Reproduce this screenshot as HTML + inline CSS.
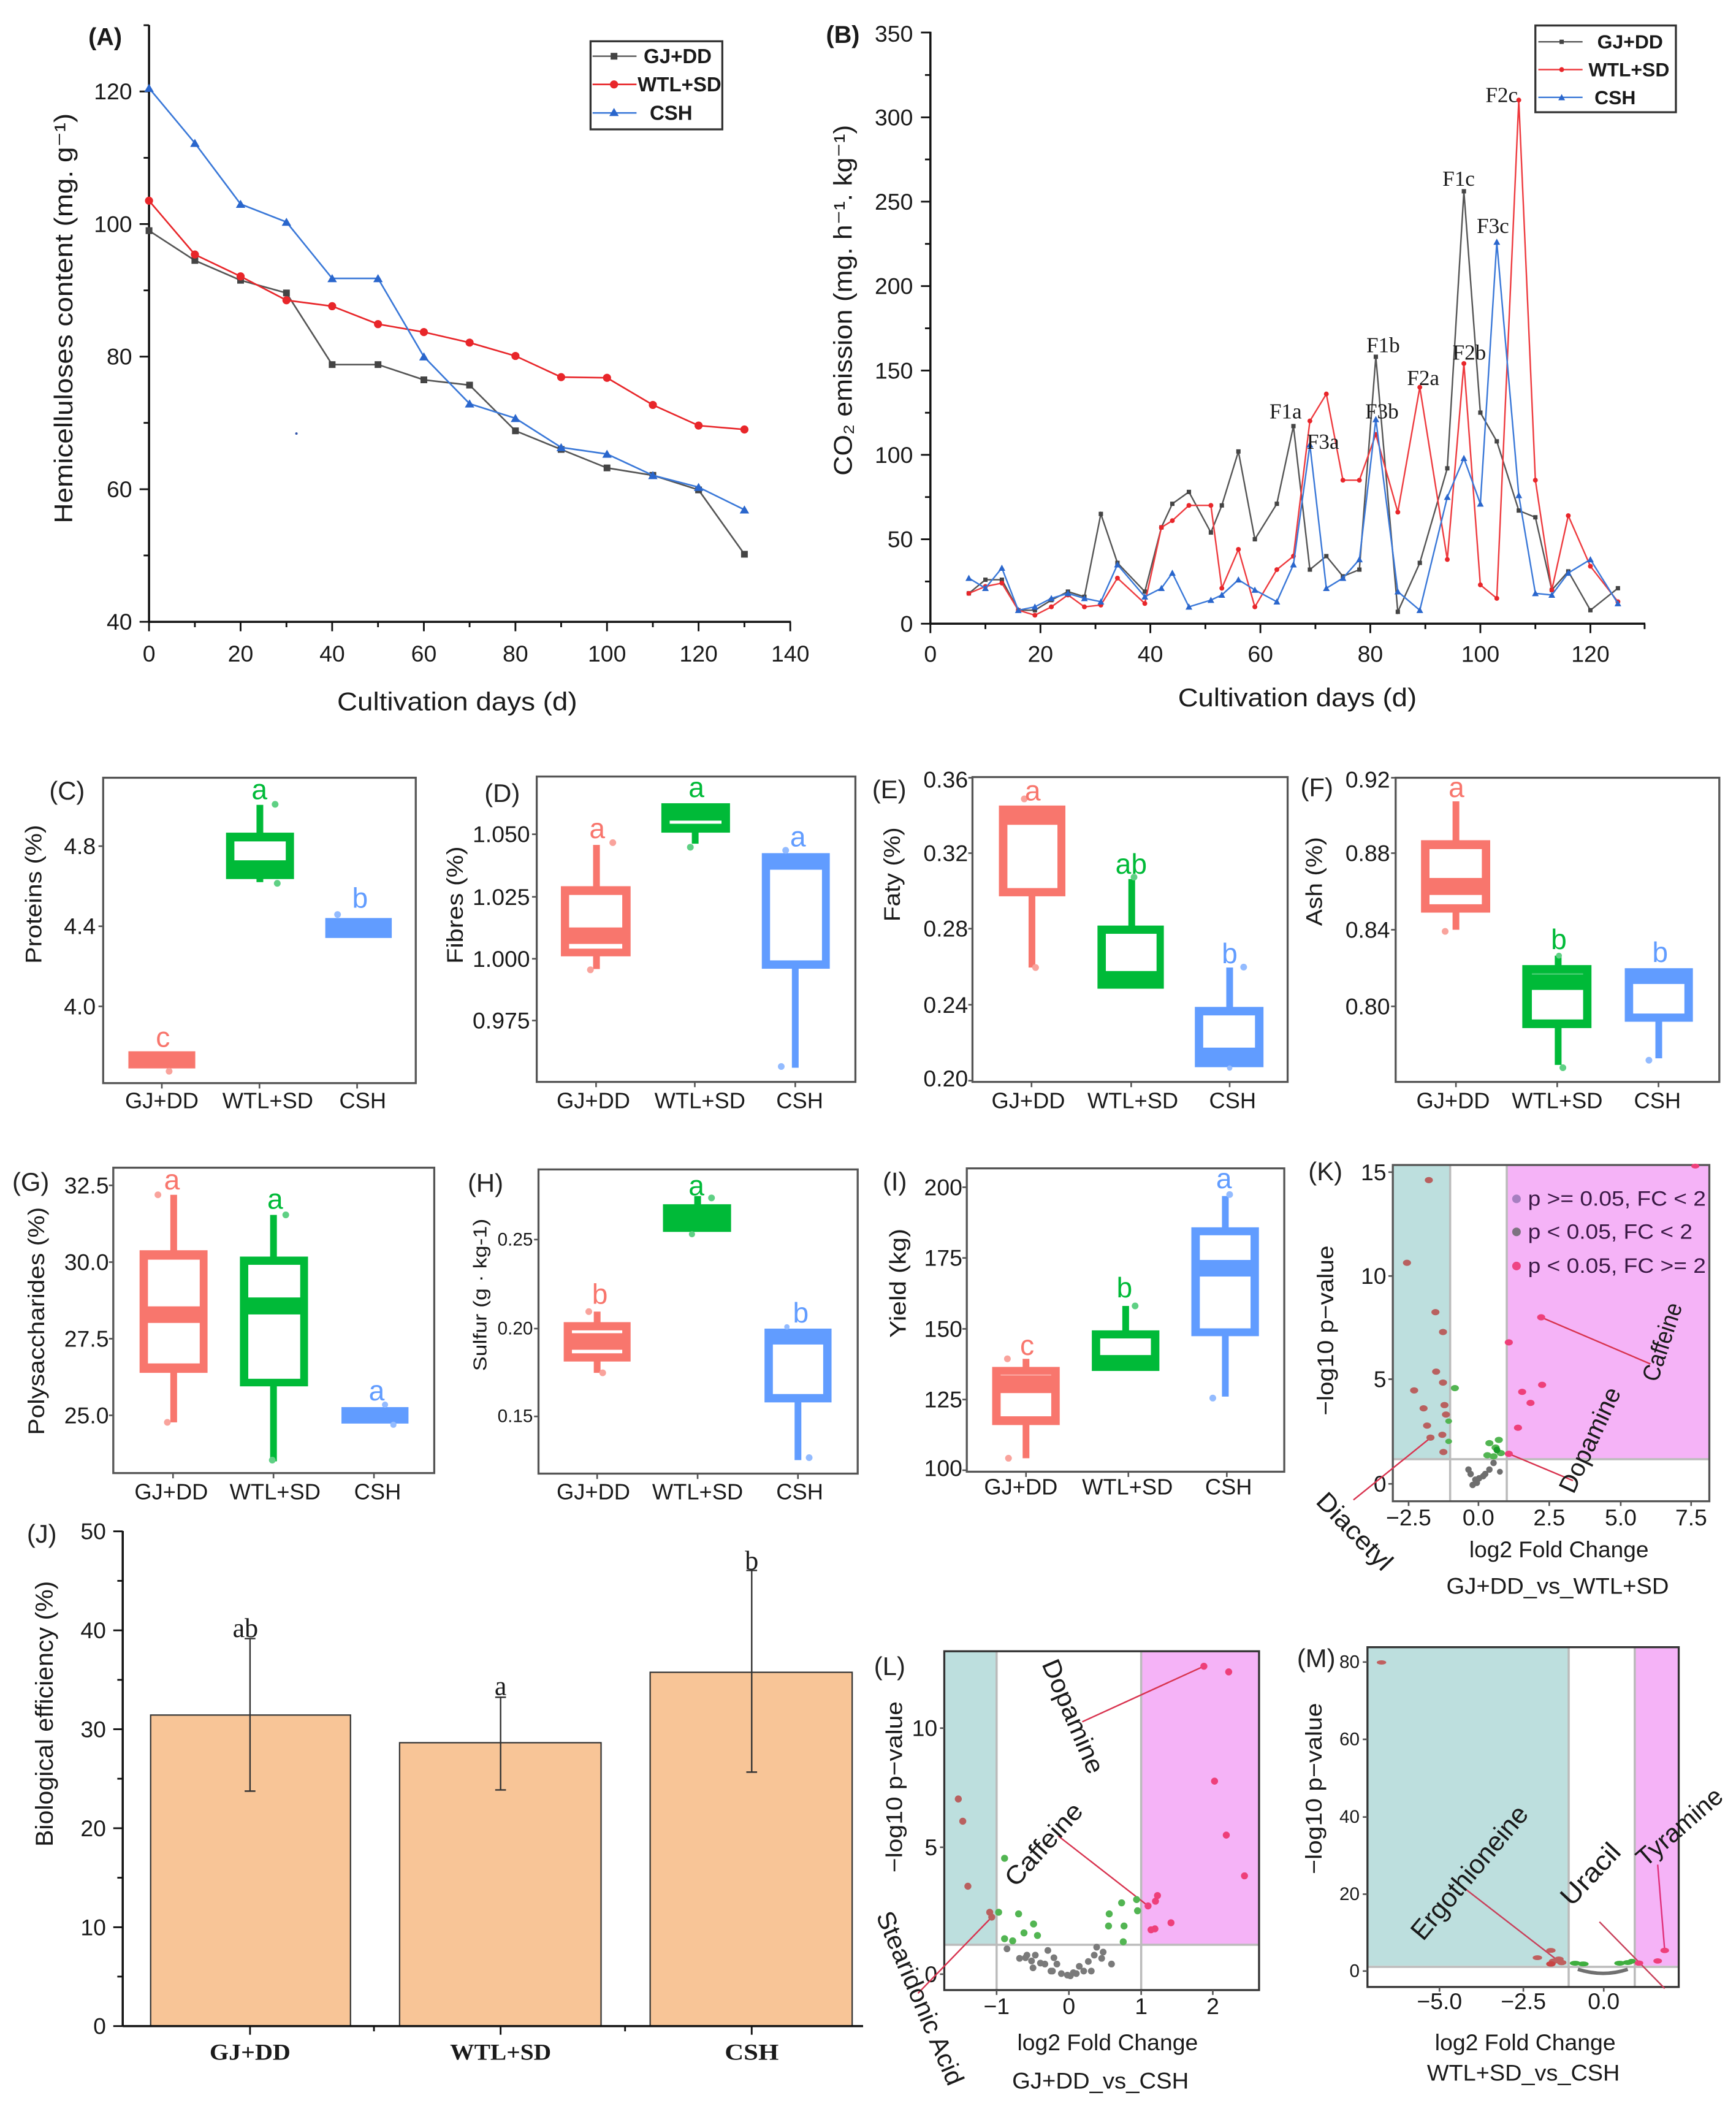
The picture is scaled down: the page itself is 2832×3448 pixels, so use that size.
<!DOCTYPE html>
<html><head><meta charset="utf-8"><style>
html,body{margin:0;padding:0;background:#fff;}
svg{display:block;}
text{font-family:"Liberation Sans",Arial,sans-serif;fill:#1a1a1a;}
.serif{font-family:"Liberation Serif","Times New Roman",serif;}
.tk{font-size:17px;}
.cat{font-size:16.5px;}
.pl{font-size:19px;fill:#222;}
.lt{font-size:21px;}
</style></head><body>
<svg xmlns="http://www.w3.org/2000/svg" width="2832" height="3448" viewBox="0 0 1287.27 1567.27">
<defs>
<marker id="mAsq" markerUnits="userSpaceOnUse" markerWidth="8" markerHeight="8" refX="4" refY="4"><rect x="1.5" y="1.5" width="5" height="5" fill="#444"/></marker>
<marker id="mAci" markerUnits="userSpaceOnUse" markerWidth="8" markerHeight="8" refX="4" refY="4"><circle cx="4" cy="4" r="3" fill="#e8262a"/></marker>
<marker id="mAtr" markerUnits="userSpaceOnUse" markerWidth="9" markerHeight="9" refX="4.5" refY="4.5"><path d="M4.5,1.3 L8,7.3 L1,7.3Z" fill="#2a66cc"/></marker>
<marker id="mBsq" markerUnits="userSpaceOnUse" markerWidth="6" markerHeight="6" refX="3" refY="3"><rect x="1.4" y="1.4" width="3.2" height="3.2" fill="#444"/></marker>
<marker id="mBci" markerUnits="userSpaceOnUse" markerWidth="6" markerHeight="6" refX="3" refY="3"><circle cx="3" cy="3" r="1.8" fill="#e8262a"/></marker>
<marker id="mBtr" markerUnits="userSpaceOnUse" markerWidth="7" markerHeight="7" refX="3.5" refY="3.5"><path d="M3.5,1 L6,5.6 L1,5.6Z" fill="#2a66cc"/></marker>
</defs>
<rect x="0" y="0" width="1287.27" height="1567.27" fill="#fff"/>

<!-- ================= PANEL A ================= -->
<g>
<text x="78" y="27.5" font-size="18" font-weight="bold" text-anchor="middle" dominant-baseline="central" fill="#111">(A)</text>
<line x1="110.5" y1="18.5" x2="110.5" y2="461" stroke="#111" stroke-width="1.6"/>
<line x1="110.5" y1="461" x2="586.5" y2="461" stroke="#111" stroke-width="1.6"/>
<g stroke="#111" stroke-width="1.3">
<line x1="103.5" y1="461" x2="110.5" y2="461"/><line x1="103.5" y1="362.7" x2="110.5" y2="362.7"/><line x1="103.5" y1="264.4" x2="110.5" y2="264.4"/><line x1="103.5" y1="166.1" x2="110.5" y2="166.1"/><line x1="103.5" y1="67.8" x2="110.5" y2="67.8"/>
<line x1="106.5" y1="411.8" x2="110.5" y2="411.8"/><line x1="106.5" y1="313.5" x2="110.5" y2="313.5"/><line x1="106.5" y1="215.3" x2="110.5" y2="215.3"/><line x1="106.5" y1="117" x2="110.5" y2="117"/><line x1="106.5" y1="18.7" x2="110.5" y2="18.7"/>
<line x1="110.5" y1="461" x2="110.5" y2="468"/><line x1="178.4" y1="461" x2="178.4" y2="468"/><line x1="246.3" y1="461" x2="246.3" y2="468"/><line x1="314.3" y1="461" x2="314.3" y2="468"/><line x1="382.2" y1="461" x2="382.2" y2="468"/><line x1="450.1" y1="461" x2="450.1" y2="468"/><line x1="518" y1="461" x2="518" y2="468"/><line x1="586" y1="461" x2="586" y2="468"/>
<line x1="144.5" y1="461" x2="144.5" y2="465"/><line x1="212.4" y1="461" x2="212.4" y2="465"/><line x1="280.3" y1="461" x2="280.3" y2="465"/><line x1="348.2" y1="461" x2="348.2" y2="465"/><line x1="416.1" y1="461" x2="416.1" y2="465"/><line x1="484.1" y1="461" x2="484.1" y2="465"/><line x1="552" y1="461" x2="552" y2="465"/>
</g>
<g class="tk" text-anchor="end" dominant-baseline="central">
<text x="98" y="461">40</text><text x="98" y="362.7">60</text><text x="98" y="264.4">80</text><text x="98" y="166.1">100</text><text x="98" y="67.8">120</text>
</g>
<g class="tk" text-anchor="middle" dominant-baseline="central">
<text x="110.5" y="484.5">0</text><text x="178.4" y="484.5">20</text><text x="246.3" y="484.5">40</text><text x="314.3" y="484.5">60</text><text x="382.2" y="484.5">80</text><text x="450.1" y="484.5">100</text><text x="518" y="484.5">120</text><text x="586" y="484.5">140</text>
</g>
<text x="339" y="520" font-size="19" text-anchor="middle" dominant-baseline="central" textLength="178" lengthAdjust="spacingAndGlyphs">Cultivation days (d)</text>
<text transform="translate(47,236) rotate(-90)" font-size="19" text-anchor="middle" dominant-baseline="central" textLength="304" lengthAdjust="spacingAndGlyphs">Hemicelluloses content  (mg. g⁻¹)</text>
<circle cx="219.8" cy="321.4" r="0.9" fill="#3355aa"/>
<polyline fill="none" stroke="#555" stroke-width="1.2" marker-start="url(#mAsq)" marker-mid="url(#mAsq)" marker-end="url(#mAsq)" points="110.5,171 144.5,193.1 178.4,207.8 212.4,217.2 246.3,270.3 280.3,270.3 314.3,281.6 348.2,285.5 382.2,319.4 416.1,333.2 450.1,346.9 484.1,352.4 518,363.2 552,410.9"/>
<polyline fill="none" stroke="#e8262a" stroke-width="1.2" marker-start="url(#mAci)" marker-mid="url(#mAci)" marker-end="url(#mAci)" points="110.5,148.8 144.5,188.7 178.4,204.9 212.4,222.6 246.3,227 280.3,240.3 314.3,246.2 348.2,254 382.2,263.9 416.1,279.6 450.1,280.1 484.1,300.2 518,315.5 552,318.4"/>
<polyline fill="none" stroke="#3a78d8" stroke-width="1.2" marker-start="url(#mAtr)" marker-mid="url(#mAtr)" marker-end="url(#mAtr)" points="110.5,65.3 144.5,106.1 178.4,151.3 212.4,164.6 246.3,206.4 280.3,206.4 314.3,264.4 348.2,299.3 382.2,310.1 416.1,331.7 450.1,336.6 484.1,352.4 518,361.2 552,377.9"/>
<rect x="437.9" y="30.6" width="97.7" height="65.3" fill="#fff" stroke="#333" stroke-width="1.5"/>
<line x1="439.4" y1="41.7" x2="472" y2="41.7" stroke="#666" stroke-width="1.2"/><rect x="452.8" y="39.2" width="5" height="5" fill="#444"/>
<line x1="439.4" y1="62.6" x2="472" y2="62.6" stroke="#e8262a" stroke-width="1.2"/><circle cx="455.3" cy="62.6" r="3" fill="#e8262a"/>
<line x1="439.4" y1="83.7" x2="472" y2="83.7" stroke="#3a78d8" stroke-width="1.2"/><path d="M455.3,80 L458.8,86 L451.8,86Z" fill="#2a66cc"/>
<g font-size="15" font-weight="bold" dominant-baseline="central">
<text x="477.3" y="41.7">GJ+DD</text><text x="472.8" y="62.6">WTL+SD</text><text x="481.8" y="83.7">CSH</text>
</g>
</g>

<!-- ================= PANEL B ================= -->
<g>
<text x="625" y="25.8" font-size="18" font-weight="bold" text-anchor="middle" dominant-baseline="central" fill="#111">(B)</text>
<line x1="689.9" y1="23.5" x2="689.9" y2="462.4" stroke="#111" stroke-width="1.6"/>
<line x1="689.9" y1="462.4" x2="1220" y2="462.4" stroke="#111" stroke-width="1.6"/>
<g stroke="#111" stroke-width="1.3">
<line x1="682.9" y1="462.4" x2="689.9" y2="462.4"/><line x1="682.9" y1="399.8" x2="689.9" y2="399.8"/><line x1="682.9" y1="337.2" x2="689.9" y2="337.2"/><line x1="682.9" y1="274.7" x2="689.9" y2="274.7"/><line x1="682.9" y1="212.1" x2="689.9" y2="212.1"/><line x1="682.9" y1="149.5" x2="689.9" y2="149.5"/><line x1="682.9" y1="87" x2="689.9" y2="87"/><line x1="682.9" y1="24.1" x2="689.9" y2="24.1"/>
<line x1="685.9" y1="431.1" x2="689.9" y2="431.1"/><line x1="685.9" y1="368.5" x2="689.9" y2="368.5"/><line x1="685.9" y1="306" x2="689.9" y2="306"/><line x1="685.9" y1="243.4" x2="689.9" y2="243.4"/><line x1="685.9" y1="180.8" x2="689.9" y2="180.8"/><line x1="685.9" y1="118.2" x2="689.9" y2="118.2"/><line x1="685.9" y1="55.6" x2="689.9" y2="55.6"/>
<line x1="689.9" y1="462.4" x2="689.9" y2="469.4"/><line x1="771.5" y1="462.4" x2="771.5" y2="469.4"/><line x1="853" y1="462.4" x2="853" y2="469.4"/><line x1="934.6" y1="462.4" x2="934.6" y2="469.4"/><line x1="1016.1" y1="462.4" x2="1016.1" y2="469.4"/><line x1="1097.7" y1="462.4" x2="1097.7" y2="469.4"/><line x1="1179.3" y1="462.4" x2="1179.3" y2="469.4"/>
<line x1="730.7" y1="462.4" x2="730.7" y2="466.4"/><line x1="812.3" y1="462.4" x2="812.3" y2="466.4"/><line x1="893.8" y1="462.4" x2="893.8" y2="466.4"/><line x1="975.4" y1="462.4" x2="975.4" y2="466.4"/><line x1="1056.9" y1="462.4" x2="1056.9" y2="466.4"/><line x1="1138.5" y1="462.4" x2="1138.5" y2="466.4"/><line x1="1219.5" y1="462.4" x2="1219.5" y2="466.4"/>
</g>
<g class="tk" text-anchor="end" dominant-baseline="central">
<text x="677" y="462.4">0</text><text x="677" y="399.8">50</text><text x="677" y="337.2">100</text><text x="677" y="274.7">150</text><text x="677" y="212.1">200</text><text x="677" y="149.5">250</text><text x="677" y="87">300</text><text x="677" y="25">350</text>
</g>
<g class="tk" text-anchor="middle" dominant-baseline="central">
<text x="689.9" y="484.8">0</text><text x="771.5" y="484.8">20</text><text x="853" y="484.8">40</text><text x="934.6" y="484.8">60</text><text x="1016.1" y="484.8">80</text><text x="1097.7" y="484.8">100</text><text x="1179.3" y="484.8">120</text>
</g>
<text x="962" y="517" font-size="19" text-anchor="middle" dominant-baseline="central" textLength="177" lengthAdjust="spacingAndGlyphs">Cultivation days (d)</text>
<text transform="translate(625,222.6) rotate(-90)" font-size="19" text-anchor="middle" dominant-baseline="central" textLength="260" lengthAdjust="spacingAndGlyphs">CO₂ emission (mg. h⁻¹. kg⁻¹)</text>
<polyline fill="none" stroke="#555" stroke-width="1.1" marker-start="url(#mBsq)" marker-mid="url(#mBsq)" marker-end="url(#mBsq)" points="718.4,439.9 730.7,429.8 742.9,429.8 755.1,452.4 767.4,452.4 779.6,444.9 791.9,438.6 804.1,442.4 816.3,381 828.6,417.3 848.9,438.6 861.2,391 869.3,373.5 881.6,364.7 897.9,394.8 906,374.7 918.3,334.7 930.5,399.8 946.8,373.5 959.1,315.9 971.3,422.3 983.5,412.3 995.8,427.3 1008,422.3 1020.2,264.5 1036.5,453.6 1052.8,417.3 1073.2,347.2 1085.5,141.8 1097.7,305.9 1109.9,327.2 1126.2,378.5 1138.5,383.5 1150.7,437.4 1162.9,423.6 1179.3,452.4 1199.7,436.1"/>
<polyline fill="none" stroke="#ee3b3f" stroke-width="1.1" marker-start="url(#mBci)" marker-mid="url(#mBci)" marker-end="url(#mBci)" points="718.4,439.9 730.7,434.8 742.9,432.3 755.1,452.4 767.4,456.1 779.6,449.9 791.9,441.1 804.1,449.9 816.3,448.6 828.6,428.6 848.9,447.4 861.2,391 869.3,386 881.6,374.7 897.9,374.7 906,436.1 918.3,407.3 930.5,449.9 946.8,422.3 959.1,412.3 971.3,312.1 983.5,292.1 995.8,356 1008,356 1020.2,322.1 1036.5,379.7 1052.8,287.1 1073.2,414.8 1085.5,269.5 1097.7,433.6 1109.9,443.6 1126.2,74.2 1138.5,356 1150.7,437.4 1162.9,382.3 1179.3,419.8 1199.7,446.1"/>
<polyline fill="none" stroke="#3a78d8" stroke-width="1.1" marker-start="url(#mBtr)" marker-mid="url(#mBtr)" marker-end="url(#mBtr)" points="718.4,428.6 730.7,436.1 742.9,421.1 755.1,452.4 767.4,449.9 779.6,443.6 791.9,439.9 804.1,443.6 816.3,446.1 828.6,418.6 848.9,442.4 861.2,436.1 869.3,424.8 881.6,449.9 897.9,444.9 906,441.1 918.3,429.8 930.5,437.4 946.8,446.1 959.1,418.6 971.3,329.7 983.5,436.1 995.8,428.6 1008,414.8 1020.2,310.9 1036.5,438.6 1052.8,452.4 1073.2,368.5 1085.5,339.7 1097.7,373.5 1109.9,179.4 1126.2,367.2 1138.5,439.9 1150.7,441.1 1162.9,424.8 1179.3,414.8 1199.7,447.4"/>
<g class="serif" font-size="16" text-anchor="middle" dominant-baseline="central">
<text class="serif" x="1113.5" y="70.5">F2c</text><text class="serif" x="1081.6" y="132.4">F1c</text><text class="serif" x="1107" y="167.4">F3c</text>
<text class="serif" x="1025.6" y="256">F1b</text><text class="serif" x="1089.5" y="261.3">F2b</text><text class="serif" x="1055.3" y="280.2">F2a</text>
<text class="serif" x="953.3" y="305">F1a</text><text class="serif" x="1024.7" y="305">F3b</text><text class="serif" x="981" y="327.6">F3a</text>
</g>
<rect x="1138.5" y="18.9" width="104.2" height="64.3" fill="#fff" stroke="#333" stroke-width="1.5"/>
<line x1="1140.7" y1="31" x2="1173.5" y2="31" stroke="#555" stroke-width="1.1"/><rect x="1156.4" y="29.4" width="3.2" height="3.2" fill="#444"/>
<line x1="1140.7" y1="51.6" x2="1173.5" y2="51.6" stroke="#ee3b3f" stroke-width="1.1"/><circle cx="1158" cy="51.6" r="1.8" fill="#e8262a"/>
<line x1="1140.7" y1="72.2" x2="1173.5" y2="72.2" stroke="#3a78d8" stroke-width="1.1"/><path d="M1158,69.7 L1160.5,74.3 L1155.5,74.3Z" fill="#2a66cc"/>
<g font-size="14.5" font-weight="bold" dominant-baseline="central">
<text x="1184.4" y="31">GJ+DD</text><text x="1177.9" y="51.6">WTL+SD</text><text x="1182.3" y="72.2">CSH</text>
</g>
</g>

<!-- ================= PANEL C ================= -->
<g>
<text class="pl" x="49.7" y="586.2" text-anchor="middle" dominant-baseline="central">(C)</text>
<rect x="76.5" y="576.6" width="231.8" height="226.4" fill="none" stroke="#555" stroke-width="1.5"/>
<g stroke="#555" stroke-width="1.2"><line x1="73" y1="627.3" x2="76.5" y2="627.3"/><line x1="73" y1="686.7" x2="76.5" y2="686.7"/><line x1="73" y1="746.1" x2="76.5" y2="746.1"/>
<line x1="120" y1="803" x2="120" y2="807"/><line x1="192.4" y1="803" x2="192.4" y2="807"/><line x1="264.8" y1="803" x2="264.8" y2="807"/></g>
<g class="tk" text-anchor="end" dominant-baseline="central"><text x="71" y="627.3">4.8</text><text x="71" y="686.7">4.4</text><text x="71" y="746.1">4.0</text></g>
<g class="cat" text-anchor="middle" dominant-baseline="central"><text x="120" y="816">GJ+DD</text><text x="198.6" y="816">WTL+SD</text><text x="269" y="816">CSH</text></g>
<text transform="translate(24.8,663) rotate(-90)" font-size="17" text-anchor="middle" dominant-baseline="central" textLength="103" lengthAdjust="spacingAndGlyphs">Proteins (%)</text>
<rect x="95.2" y="779.4" width="49.6" height="12.7" fill="#F8766D"/>
<circle cx="125.4" cy="794.2" r="2.5" fill="#f9a39c"/>
<text class="lt" x="120.8" y="768.9" fill="#F8766D" style="fill:#F8766D" text-anchor="middle" dominant-baseline="central">c</text>
<rect x="190.2" y="596.7" width="5" height="21" fill="#00BA38"/>
<rect x="167.6" y="617.3" width="50.4" height="34.4" fill="#00BA38"/>
<rect x="173.8" y="623.8" width="38.1" height="14" fill="#fff"/>
<rect x="190.2" y="651" width="5" height="3" fill="#00BA38"/>
<circle cx="204" cy="596.3" r="2.5" fill="#5fd084"/><circle cx="205.6" cy="654.9" r="2.5" fill="#5fd084"/>
<text class="lt" x="192.4" y="585.3" style="fill:#00BA38" text-anchor="middle" dominant-baseline="central">a</text>
<rect x="241.2" y="680.6" width="49.3" height="14.8" fill="#619CFF"/>
<circle cx="250.3" cy="678" r="2.5" fill="#93bbff"/>
<text class="lt" x="267" y="665.7" style="fill:#619CFF" text-anchor="middle" dominant-baseline="central">b</text>
</g>

<!-- ================= PANEL D ================= -->
<g>
<text class="pl" x="372.4" y="588" text-anchor="middle" dominant-baseline="central">(D)</text>
<rect x="398" y="575.7" width="236.3" height="226.4" fill="none" stroke="#555" stroke-width="1.5"/>
<g stroke="#555" stroke-width="1.2"><line x1="394.5" y1="618.5" x2="398" y2="618.5"/><line x1="394.5" y1="664.9" x2="398" y2="664.9"/><line x1="394.5" y1="710.8" x2="398" y2="710.8"/><line x1="394.5" y1="756.6" x2="398" y2="756.6"/>
<line x1="442" y1="802" x2="442" y2="806"/><line x1="515.2" y1="802" x2="515.2" y2="806"/><line x1="589.7" y1="802" x2="589.7" y2="806"/></g>
<g class="tk" text-anchor="end" dominant-baseline="central"><text x="393" y="618.5">1.050</text><text x="393" y="664.9">1.025</text><text x="393" y="710.8">1.000</text><text x="393" y="756.6">0.975</text></g>
<g class="cat" text-anchor="middle" dominant-baseline="central"><text x="440" y="816">GJ+DD</text><text x="519" y="816">WTL+SD</text><text x="593" y="816">CSH</text></g>
<text transform="translate(337.3,671) rotate(-90)" font-size="17" text-anchor="middle" dominant-baseline="central" textLength="87" lengthAdjust="spacingAndGlyphs">Fibres (%)</text>
<rect x="439.8" y="626.4" width="5" height="92" fill="#F8766D"/>
<rect x="415.9" y="657" width="51.7" height="52" fill="#F8766D"/>
<rect x="422" y="663.5" width="39.4" height="24.1" fill="#fff"/>
<rect x="422" y="699.8" width="39.4" height="3.5" fill="#fff"/>
<circle cx="454.4" cy="624.7" r="2.5" fill="#f9a39c"/><circle cx="437.8" cy="719" r="2.5" fill="#f9a39c"/>
<text class="lt" x="442.8" y="614.2" style="fill:#F8766D" text-anchor="middle" dominant-baseline="central">a</text>
<rect x="513" y="612" width="5" height="13.5" fill="#00BA38"/>
<rect x="490.4" y="595.5" width="50.9" height="21.8" fill="#00BA38"/>
<rect x="496.6" y="608.4" width="38.4" height="2.3" fill="#fff"/>
<circle cx="511.9" cy="628.1" r="2.5" fill="#5fd084"/>
<text class="lt" x="516.4" y="583.6" style="fill:#00BA38" text-anchor="middle" dominant-baseline="central">a</text>
<rect x="587.2" y="710" width="5" height="81.6" fill="#619CFF"/>
<rect x="564.9" y="632.5" width="50.4" height="85.7" fill="#619CFF"/>
<rect x="571" y="644.8" width="38.5" height="67.2" fill="#fff"/>
<circle cx="579.3" cy="790.7" r="2.5" fill="#93bbff"/><circle cx="582.6" cy="630.4" r="2.5" fill="#93bbff"/>
<text class="lt" x="591.7" y="620.3" style="fill:#619CFF" text-anchor="middle" dominant-baseline="central">a</text>
</g>

<!-- ================= PANEL E ================= -->
<g>
<text class="pl" x="659.4" y="585.3" text-anchor="middle" dominant-baseline="central">(E)</text>
<rect x="721.1" y="576.1" width="233.7" height="226" fill="none" stroke="#555" stroke-width="1.5"/>
<g stroke="#555" stroke-width="1.2"><line x1="718" y1="576.6" x2="721.1" y2="576.6"/><line x1="718" y1="632.5" x2="721.1" y2="632.5"/><line x1="718" y1="688.5" x2="721.1" y2="688.5"/><line x1="718" y1="744.9" x2="721.1" y2="744.9"/><line x1="718" y1="801.2" x2="721.1" y2="801.2"/>
<line x1="764.9" y1="802" x2="764.9" y2="806"/><line x1="838.8" y1="802" x2="838.8" y2="806"/><line x1="911.8" y1="802" x2="911.8" y2="806"/></g>
<g class="tk" text-anchor="end" dominant-baseline="central"><text x="717.8" y="578">0.36</text><text x="717.8" y="632.5">0.32</text><text x="717.8" y="688.5">0.28</text><text x="717.8" y="744.9">0.24</text><text x="717.8" y="799.5">0.20</text></g>
<g class="cat" text-anchor="middle" dominant-baseline="central"><text x="762.5" y="816">GJ+DD</text><text x="840" y="816">WTL+SD</text><text x="914" y="816">CSH</text></g>
<text transform="translate(661.4,648.3) rotate(-90)" font-size="17" text-anchor="middle" dominant-baseline="central" textLength="70" lengthAdjust="spacingAndGlyphs">Faty (%)</text>
<rect x="762.7" y="660" width="5" height="57.3" fill="#F8766D"/>
<rect x="740.7" y="597.2" width="49.3" height="67.3" fill="#F8766D"/>
<rect x="747" y="611.5" width="37.1" height="46.9" fill="#fff"/>
<circle cx="767.9" cy="717.3" r="2.5" fill="#f9a39c"/><circle cx="759.5" cy="592.3" r="2.5" fill="#f9a39c"/>
<text class="lt" x="765.8" y="586.2" style="fill:#F8766D" text-anchor="middle" dominant-baseline="central">a</text>
<rect x="836.7" y="651.7" width="5" height="36" fill="#00BA38"/>
<rect x="813.8" y="686.2" width="49.2" height="46.8" fill="#00BA38"/>
<rect x="820" y="692.3" width="37.6" height="27.6" fill="#fff"/>
<circle cx="840.9" cy="650.3" r="2.5" fill="#5fd084"/>
<text class="lt" x="838.8" y="640.4" style="fill:#00BA38" text-anchor="middle" dominant-baseline="central">ab</text>
<rect x="909.3" y="717.3" width="5" height="31" fill="#619CFF"/>
<rect x="886" y="746.5" width="50.9" height="44.7" fill="#619CFF"/>
<rect x="892.2" y="752.8" width="38.4" height="23.9" fill="#fff"/>
<circle cx="922.2" cy="717" r="2.5" fill="#93bbff"/><circle cx="911.8" cy="791.8" r="2" fill="#93bbff"/>
<text class="lt" x="911.8" y="706.8" style="fill:#619CFF" text-anchor="middle" dominant-baseline="central">b</text>
</g>

<!-- ================= PANEL F ================= -->
<g>
<text class="pl" x="976.5" y="583.6" text-anchor="middle" dominant-baseline="central">(F)</text>
<rect x="1034.9" y="576.6" width="240" height="225.5" fill="none" stroke="#555" stroke-width="1.5"/>
<g stroke="#555" stroke-width="1.2"><line x1="1031.5" y1="576.6" x2="1034.9" y2="576.6"/><line x1="1031.5" y1="632.5" x2="1034.9" y2="632.5"/><line x1="1031.5" y1="689.3" x2="1034.9" y2="689.3"/><line x1="1031.5" y1="746.1" x2="1034.9" y2="746.1"/>
<line x1="1079.6" y1="802" x2="1079.6" y2="806"/><line x1="1154.7" y1="802" x2="1154.7" y2="806"/><line x1="1229.8" y1="802" x2="1229.8" y2="806"/></g>
<g class="tk" text-anchor="end" dominant-baseline="central"><text x="1030.7" y="578">0.92</text><text x="1030.7" y="632.5">0.88</text><text x="1030.7" y="689.3">0.84</text><text x="1030.7" y="746.1">0.80</text></g>
<g class="cat" text-anchor="middle" dominant-baseline="central"><text x="1077.5" y="816">GJ+DD</text><text x="1154.7" y="816">WTL+SD</text><text x="1229" y="816">CSH</text></g>
<text transform="translate(974.4,653.5) rotate(-90)" font-size="17" text-anchor="middle" dominant-baseline="central" textLength="66" lengthAdjust="spacingAndGlyphs">Ash (%)</text>
<rect x="1077.1" y="594.1" width="5" height="95.2" fill="#F8766D"/>
<rect x="1053.7" y="622.9" width="51.3" height="53.7" fill="#F8766D"/>
<rect x="1060" y="629.5" width="38.8" height="21.4" fill="#fff"/>
<rect x="1060" y="663.5" width="38.8" height="6.9" fill="#fff"/>
<circle cx="1071.6" cy="690.5" r="2.5" fill="#f9a39c"/>
<text class="lt" x="1080" y="583.6" style="fill:#F8766D" text-anchor="middle" dominant-baseline="central">a</text>
<rect x="1152.9" y="708.5" width="5" height="81" fill="#00BA38"/>
<rect x="1128.8" y="715.5" width="51.3" height="46.7" fill="#00BA38"/>
<rect x="1135.9" y="733.9" width="38" height="21.9" fill="#fff"/>
<rect x="1135.9" y="721.6" width="38" height="1" fill="#4fcf78"/>
<circle cx="1158.9" cy="791.6" r="2.5" fill="#5fd084"/><circle cx="1156" cy="708.5" r="2.2" fill="#5fd084"/>
<text class="lt" x="1155.9" y="696.3" style="fill:#00BA38" text-anchor="middle" dominant-baseline="central">b</text>
<rect x="1227.5" y="750" width="5" height="34.6" fill="#619CFF"/>
<rect x="1204.8" y="717.8" width="50.5" height="39.7" fill="#619CFF"/>
<rect x="1211" y="729.5" width="38" height="21.9" fill="#fff"/>
<circle cx="1222.7" cy="786" r="2.5" fill="#93bbff"/>
<text class="lt" x="1231" y="705.9" style="fill:#619CFF" text-anchor="middle" dominant-baseline="central">b</text>
</g>

<!-- ================= PANEL G ================= -->
<g>
<text class="pl" x="22.8" y="876.2" text-anchor="middle" dominant-baseline="central">(G)</text>
<rect x="84" y="865.7" width="238" height="226.4" fill="none" stroke="#555" stroke-width="1.5"/>
<g stroke="#555" stroke-width="1.2"><line x1="80.8" y1="878.8" x2="84" y2="878.8"/><line x1="80.8" y1="935.7" x2="84" y2="935.7"/><line x1="80.8" y1="992.5" x2="84" y2="992.5"/><line x1="80.8" y1="1049.3" x2="84" y2="1049.3"/>
<line x1="128.3" y1="1092" x2="128.3" y2="1096"/><line x1="202.8" y1="1092" x2="202.8" y2="1096"/><line x1="277.3" y1="1092" x2="277.3" y2="1096"/></g>
<g class="tk" text-anchor="end" dominant-baseline="central"><text x="80.7" y="878.8">32.5</text><text x="80.7" y="935.7">30.0</text><text x="80.7" y="992.5">27.5</text><text x="80.7" y="1049.3">25.0</text></g>
<g class="cat" text-anchor="middle" dominant-baseline="central"><text x="127" y="1106">GJ+DD</text><text x="204" y="1106">WTL+SD</text><text x="280" y="1106">CSH</text></g>
<text transform="translate(26.9,979.4) rotate(-90)" font-size="17" text-anchor="middle" dominant-baseline="central" textLength="169" lengthAdjust="spacingAndGlyphs">Polysaccharides (%)</text>
<rect x="126.3" y="885.8" width="5" height="168.7" fill="#F8766D"/>
<rect x="103.5" y="926.9" width="50.4" height="90.9" fill="#F8766D"/>
<rect x="109.7" y="933.9" width="38.4" height="34.6" fill="#fff"/>
<rect x="109.7" y="980.8" width="38.4" height="30" fill="#fff"/>
<circle cx="117.1" cy="885.8" r="2.5" fill="#f9a39c"/><circle cx="124.1" cy="1054.5" r="2.5" fill="#f9a39c"/>
<text class="lt" x="127.5" y="874.5" style="fill:#F8766D" text-anchor="middle" dominant-baseline="central">a</text>
<rect x="200.3" y="900.7" width="5" height="182.7" fill="#00BA38"/>
<rect x="177.9" y="931.6" width="50.5" height="96.2" fill="#00BA38"/>
<rect x="184.1" y="937.7" width="38.5" height="24.2" fill="#fff"/>
<rect x="184.1" y="974.5" width="38.5" height="47.7" fill="#fff"/>
<circle cx="211.9" cy="900.7" r="2.5" fill="#5fd084"/><circle cx="201.9" cy="1082.5" r="2.5" fill="#5fd084"/>
<text class="lt" x="204" y="888.8" style="fill:#00BA38" text-anchor="middle" dominant-baseline="central">a</text>
<rect x="253.2" y="1043.2" width="49.7" height="12.2" fill="#619CFF"/>
<circle cx="285.5" cy="1041.4" r="2.3" fill="#93bbff"/><circle cx="291.7" cy="1056.3" r="2.3" fill="#93bbff"/>
<text class="lt" x="279.3" y="1030.9" style="fill:#619CFF" text-anchor="middle" dominant-baseline="central">a</text>
</g>

<!-- ================= PANEL H ================= -->
<g>
<text class="pl" x="360" y="877" text-anchor="middle" dominant-baseline="central">(H)</text>
<rect x="399.3" y="867" width="236.7" height="225.5" fill="none" stroke="#555" stroke-width="1.5"/>
<g stroke="#555" stroke-width="1.2"><line x1="396" y1="919" x2="399.3" y2="919"/><line x1="396" y1="985" x2="399.3" y2="985"/><line x1="396" y1="1050.1" x2="399.3" y2="1050.1"/>
<line x1="442.8" y1="1092.5" x2="442.8" y2="1096.5"/><line x1="517.3" y1="1092.5" x2="517.3" y2="1096.5"/><line x1="591.7" y1="1092.5" x2="591.7" y2="1096.5"/></g>
<g font-size="13.5" text-anchor="end" dominant-baseline="central"><text x="395.2" y="919">0.25</text><text x="395.2" y="985">0.20</text><text x="395.2" y="1050.1">0.15</text></g>
<g class="cat" text-anchor="middle" dominant-baseline="central"><text x="440" y="1106">GJ+DD</text><text x="517.3" y="1106">WTL+SD</text><text x="593" y="1106">CSH</text></g>
<text transform="translate(355.9,960) rotate(-90)" font-size="14" text-anchor="middle" dominant-baseline="central" textLength="113" lengthAdjust="spacingAndGlyphs">Sulfur (g · kg-1)</text>
<rect x="440.3" y="972.4" width="5" height="45.4" fill="#F8766D"/>
<rect x="418" y="980.2" width="49.6" height="29.2" fill="#F8766D"/>
<rect x="424.1" y="986.3" width="37.3" height="2.1" fill="#fff"/>
<rect x="424.1" y="1000.7" width="37.3" height="2.6" fill="#fff"/>
<circle cx="436.6" cy="972.4" r="2.5" fill="#f9a39c"/><circle cx="446.9" cy="1017.8" r="2.5" fill="#f9a39c"/>
<text class="lt" x="444.8" y="959.3" style="fill:#F8766D" text-anchor="middle" dominant-baseline="central">b</text>
<rect x="514.8" y="886.7" width="5" height="8" fill="#00BA38"/>
<rect x="491.6" y="892.8" width="50.5" height="20.5" fill="#00BA38"/>
<circle cx="527.6" cy="888.1" r="2.5" fill="#5fd084"/><circle cx="513.1" cy="915" r="2.3" fill="#5fd084"/>
<text class="lt" x="516.4" y="878.8" style="fill:#00BA38" text-anchor="middle" dominant-baseline="central">a</text>
<rect x="589.2" y="1035" width="5" height="47.5" fill="#619CFF"/>
<rect x="566.9" y="985" width="49.7" height="54.7" fill="#619CFF"/>
<rect x="573.1" y="996.8" width="37.3" height="36.7" fill="#fff"/>
<circle cx="600" cy="1080.7" r="2.5" fill="#93bbff"/><circle cx="583.5" cy="983.7" r="2" fill="#93bbff"/>
<text class="lt" x="593.8" y="973.2" style="fill:#619CFF" text-anchor="middle" dominant-baseline="central">b</text>
</g>

<!-- ================= PANEL I ================= -->
<g>
<text class="pl" x="663.5" y="875.9" text-anchor="middle" dominant-baseline="central">(I)</text>
<rect x="716.9" y="866.2" width="235.4" height="224.9" fill="none" stroke="#555" stroke-width="1.5"/>
<g stroke="#555" stroke-width="1.2"><line x1="713.6" y1="880.2" x2="716.9" y2="880.2"/><line x1="713.6" y1="932.6" x2="716.9" y2="932.6"/><line x1="713.6" y1="985.2" x2="716.9" y2="985.2"/><line x1="713.6" y1="1037.6" x2="716.9" y2="1037.6"/><line x1="713.6" y1="1090" x2="716.9" y2="1090"/>
<line x1="760.8" y1="1091" x2="760.8" y2="1095"/><line x1="836.7" y1="1091" x2="836.7" y2="1095"/><line x1="909.7" y1="1091" x2="909.7" y2="1095"/></g>
<g class="tk" text-anchor="end" dominant-baseline="central"><text x="713.6" y="880.2">200</text><text x="713.6" y="932.6">175</text><text x="713.6" y="985.2">150</text><text x="713.6" y="1037.6">125</text><text x="713.6" y="1088.5">100</text></g>
<g class="cat" text-anchor="middle" dominant-baseline="central"><text x="757" y="1102.3">GJ+DD</text><text x="836" y="1102.3">WTL+SD</text><text x="911" y="1102.3">CSH</text></g>
<text transform="translate(665.6,951.3) rotate(-90)" font-size="17" text-anchor="middle" dominant-baseline="central" textLength="81" lengthAdjust="spacingAndGlyphs">Yield (kg)</text>
<rect x="758.3" y="1007.4" width="5" height="73.7" fill="#F8766D"/>
<rect x="735.7" y="1013.4" width="50.1" height="43.1" fill="#F8766D"/>
<rect x="742" y="1032.8" width="37.5" height="17.2" fill="#fff"/>
<rect x="742" y="1019" width="37.5" height="0.8" fill="#fbb1ab"/>
<circle cx="747" cy="1007.4" r="2.5" fill="#f9a39c"/><circle cx="747.8" cy="1081.1" r="2.5" fill="#f9a39c"/>
<text class="lt" x="761.6" y="997.3" style="fill:#F8766D" text-anchor="middle" dominant-baseline="central">c</text>
<rect x="832.2" y="968.2" width="5" height="20" fill="#00BA38"/>
<rect x="809.6" y="986.3" width="50.1" height="30.1" fill="#00BA38"/>
<rect x="815.8" y="992.3" width="37.6" height="12.3" fill="#fff"/>
<circle cx="841.7" cy="968.2" r="2.5" fill="#5fd084"/>
<text class="lt" x="833.8" y="954.6" style="fill:#00BA38" text-anchor="middle" dominant-baseline="central">b</text>
<rect x="906.1" y="886.7" width="5" height="148.7" fill="#619CFF"/>
<rect x="883.4" y="909.9" width="50.1" height="80.7" fill="#619CFF"/>
<rect x="889.7" y="915.8" width="37.6" height="18.3" fill="#fff"/>
<rect x="889.7" y="946.4" width="37.6" height="38.4" fill="#fff"/>
<circle cx="911.8" cy="885.6" r="2.5" fill="#93bbff"/><circle cx="899.3" cy="1036.5" r="2.5" fill="#93bbff"/>
<text class="lt" x="907.6" y="873.7" style="fill:#619CFF" text-anchor="middle" dominant-baseline="central">a</text>
</g>

<!-- ================= PANEL K ================= -->
<g>
<text class="pl" x="982.8" y="868.3" text-anchor="middle" dominant-baseline="central">(K)</text>
<rect x="1032.8" y="863.7" width="234.7" height="249.3" fill="#fff"/>
<rect x="1032.8" y="863.7" width="42.5" height="218.1" fill="#bddfde"/>
<rect x="1117.3" y="863.7" width="150.2" height="218.1" fill="#f5b3f7"/>
<g stroke="#bbb" stroke-width="1.6"><line x1="1075.3" y1="863.7" x2="1075.3" y2="1113"/><line x1="1117.3" y1="863.7" x2="1117.3" y2="1113"/><line x1="1032.8" y1="1081.8" x2="1267.5" y2="1081.8"/></g>
<rect x="1032.8" y="863.7" width="234.7" height="249.3" fill="none" stroke="#555" stroke-width="1.5"/>
<g stroke="#555" stroke-width="1.2"><line x1="1029.5" y1="869" x2="1032.8" y2="869"/><line x1="1029.5" y1="946" x2="1032.8" y2="946"/><line x1="1029.5" y1="1022.5" x2="1032.8" y2="1022.5"/><line x1="1029.5" y1="1100.1" x2="1032.8" y2="1100.1"/>
<line x1="1044.5" y1="1113" x2="1044.5" y2="1116.5"/><line x1="1096.3" y1="1113" x2="1096.3" y2="1116.5"/><line x1="1148.8" y1="1113" x2="1148.8" y2="1116.5"/><line x1="1201.8" y1="1113" x2="1201.8" y2="1116.5"/><line x1="1254" y1="1113" x2="1254" y2="1116.5"/></g>
<g class="tk" text-anchor="end" dominant-baseline="central"><text x="1028" y="869">15</text><text x="1028" y="946">10</text><text x="1028" y="1022.5">5</text><text x="1028" y="1100.1">0</text></g>
<g class="tk" text-anchor="middle" dominant-baseline="central"><text x="1044.5" y="1125">−2.5</text><text x="1096.3" y="1125">0.0</text><text x="1148.8" y="1125">2.5</text><text x="1201.8" y="1125">5.0</text><text x="1254" y="1125">7.5</text></g>
<text x="1156" y="1148.6" font-size="17" text-anchor="middle" dominant-baseline="central" textLength="133" lengthAdjust="spacingAndGlyphs">log2 Fold Change</text>
<text x="1155" y="1175.6" font-size="17" text-anchor="middle" dominant-baseline="central" textLength="165" lengthAdjust="spacingAndGlyphs">GJ+DD_vs_WTL+SD</text>
<text transform="translate(982.8,986.4) rotate(-90)" font-size="17" text-anchor="middle" dominant-baseline="central" textLength="126" lengthAdjust="spacingAndGlyphs">−log10 p−value</text>
<circle cx="1124.5" cy="888.8" r="3.2" fill="#a67fc0"/><circle cx="1124.5" cy="913.3" r="3.2" fill="#7d7380"/><circle cx="1124.5" cy="938.6" r="3.2" fill="#ee4485"/>
<g font-size="15.5" dominant-baseline="central">
<text x="1133" y="888.8" style="fill:#3a1845" textLength="132" lengthAdjust="spacingAndGlyphs">p &gt;= 0.05, FC &lt; 2</text>
<text x="1133" y="913.3" style="fill:#3a1845" textLength="122" lengthAdjust="spacingAndGlyphs">p &lt; 0.05, FC &lt; 2</text>
<text x="1133" y="938.6" style="fill:#3a1845" textLength="132" lengthAdjust="spacingAndGlyphs">p &lt; 0.05, FC &gt;= 2</text>
</g>
<g stroke="#d8334f" stroke-width="1.1"><line x1="1142.8" y1="976.6" x2="1223.8" y2="1011.2"/><line x1="1118.8" y1="1077.8" x2="1166.4" y2="1097.7"/><line x1="1061.2" y1="1065.6" x2="1003.6" y2="1112"/></g>
<g fill="#b9605f">
<ellipse cx="1059.5" cy="874.9" rx="3" ry="2.3"/><ellipse cx="1043.3" cy="936.2" rx="3" ry="2.3"/><ellipse cx="1064.4" cy="972.8" rx="3" ry="2.3"/><ellipse cx="1070" cy="987.5" rx="3" ry="2.3"/><ellipse cx="1064.9" cy="1016.9" rx="3" ry="2.3"/><ellipse cx="1070" cy="1025" rx="3" ry="2.3"/><ellipse cx="1048.6" cy="1030.8" rx="3" ry="2.3"/><ellipse cx="1055.6" cy="1044.1" rx="3" ry="2.3"/><ellipse cx="1071.1" cy="1041.7" rx="3" ry="2.3"/><ellipse cx="1072.2" cy="1048.7" rx="3" ry="2.3"/><ellipse cx="1058.2" cy="1056.9" rx="3" ry="2.3"/><ellipse cx="1060.7" cy="1065.8" rx="3" ry="2.3"/><ellipse cx="1069.5" cy="1063.7" rx="3" ry="2.3"/><ellipse cx="1070.3" cy="1076.5" rx="3" ry="2.3"/>
</g>
<g fill="#ee3f7a">
<ellipse cx="1142.8" cy="976.6" rx="3" ry="2.3"/><ellipse cx="1118.8" cy="995.2" rx="3" ry="2.3"/><ellipse cx="1143.5" cy="1026.7" rx="3" ry="2.3"/><ellipse cx="1128.7" cy="1031.9" rx="3" ry="2.3"/><ellipse cx="1134.9" cy="1040.1" rx="3" ry="2.3"/><ellipse cx="1125.6" cy="1058.5" rx="3" ry="2.3"/><ellipse cx="1118.8" cy="1077.8" rx="3" ry="2.3"/><ellipse cx="1257.1" cy="864.5" rx="3" ry="1.8"/>
</g>
<g fill="#52b552">
<ellipse cx="1078.8" cy="1029.1" rx="3" ry="2.3"/><ellipse cx="1074.2" cy="1053.6" rx="2.5" ry="2"/><ellipse cx="1074.2" cy="1068.6" rx="2.5" ry="2"/><ellipse cx="1104.4" cy="1069.9" rx="3" ry="2.3"/><ellipse cx="1109" cy="1073.2" rx="3" ry="2.3"/><ellipse cx="1111.4" cy="1067.5" rx="3" ry="2.3"/><ellipse cx="1102.9" cy="1078.9" rx="3" ry="2.3"/><ellipse cx="1107.5" cy="1079.7" rx="3" ry="2.3"/><ellipse cx="1112.9" cy="1077.3" rx="3" ry="2.3"/><ellipse cx="1110" cy="1075" rx="2.5" ry="2.5" fill="#1a9a2a"/>
</g>
<g fill="#6e6e6e">
<circle cx="1107.5" cy="1084.6" r="2.4"/><circle cx="1112.2" cy="1091.1" r="2.2"/><circle cx="1104.4" cy="1089.5" r="2.4"/><circle cx="1101.3" cy="1092.8" r="2.4"/><circle cx="1096.7" cy="1096" r="2.4"/><circle cx="1092" cy="1100.9" r="2.4"/><circle cx="1095.1" cy="1099.3" r="2.4"/><circle cx="1088.9" cy="1089.5" r="2.4"/><circle cx="1090.5" cy="1092.8" r="2.4"/><circle cx="1099.8" cy="1094.4" r="2.4"/><circle cx="1094" cy="1097" r="2.4"/>
</g>
<text transform="translate(1232.7,994.9) rotate(-72)" font-size="18" text-anchor="middle" dominant-baseline="central" textLength="60" lengthAdjust="spacingAndGlyphs">Caffeine</text>
<text transform="translate(1178.8,1067.5) rotate(-65)" font-size="18.5" text-anchor="middle" dominant-baseline="central" textLength="84" lengthAdjust="spacingAndGlyphs">Dopamine</text>
<text transform="translate(1004.7,1135.2) rotate(46)" font-size="19" text-anchor="middle" dominant-baseline="central" textLength="72" lengthAdjust="spacingAndGlyphs">Diacetyl</text>
</g>

<!-- ================= PANEL J ================= -->
<g>
<text class="pl" x="31" y="1137" text-anchor="middle" dominant-baseline="central">(J)</text>
<rect x="111.7" y="1271.5" width="148.2" height="230.6" fill="#f8c597" stroke="#333" stroke-width="1"/>
<rect x="296.3" y="1292" width="149.4" height="210.1" fill="#f8c597" stroke="#333" stroke-width="1"/>
<rect x="482.1" y="1239.8" width="149.8" height="262.3" fill="#f8c597" stroke="#333" stroke-width="1"/>
<g stroke="#333" stroke-width="1.1">
<line x1="185.4" y1="1214.8" x2="185.4" y2="1327.9"/><line x1="181.4" y1="1214.8" x2="189.4" y2="1214.8"/><line x1="181.4" y1="1327.9" x2="189.4" y2="1327.9"/>
<line x1="371.2" y1="1258.3" x2="371.2" y2="1327"/><line x1="367.2" y1="1258.3" x2="375.2" y2="1258.3"/><line x1="367.2" y1="1327" x2="375.2" y2="1327"/>
<line x1="557.4" y1="1164.3" x2="557.4" y2="1313.8"/><line x1="553.4" y1="1164.3" x2="561.4" y2="1164.3"/><line x1="553.4" y1="1313.8" x2="561.4" y2="1313.8"/>
</g>
<line x1="91" y1="1135" x2="91" y2="1502.1" stroke="#111" stroke-width="1.6"/>
<line x1="91" y1="1502.1" x2="640" y2="1502.1" stroke="#111" stroke-width="1.6"/>
<g stroke="#111" stroke-width="1.3">
<line x1="84" y1="1502.1" x2="91" y2="1502.1"/><line x1="84" y1="1428.8" x2="91" y2="1428.8"/><line x1="84" y1="1355.4" x2="91" y2="1355.4"/><line x1="84" y1="1282" x2="91" y2="1282"/><line x1="84" y1="1208.7" x2="91" y2="1208.7"/><line x1="84" y1="1135.3" x2="91" y2="1135.3"/>
<line x1="87" y1="1465.4" x2="91" y2="1465.4"/><line x1="87" y1="1392.1" x2="91" y2="1392.1"/><line x1="87" y1="1318.7" x2="91" y2="1318.7"/><line x1="87" y1="1245.4" x2="91" y2="1245.4"/><line x1="87" y1="1172" x2="91" y2="1172"/>
<line x1="185.4" y1="1502.1" x2="185.4" y2="1508.5"/><line x1="371.2" y1="1502.1" x2="371.2" y2="1508.5"/><line x1="557.4" y1="1502.1" x2="557.4" y2="1508.5"/>
<line x1="277.3" y1="1502.1" x2="277.3" y2="1506"/><line x1="463.5" y1="1502.1" x2="463.5" y2="1506"/>
</g>
<g class="tk" text-anchor="end" dominant-baseline="central"><text x="78.6" y="1502.1">0</text><text x="78.6" y="1428.8">10</text><text x="78.6" y="1355.4">20</text><text x="78.6" y="1282">30</text><text x="78.6" y="1208.7">40</text><text x="78.6" y="1135.3">50</text></g>
<text transform="translate(33.1,1270.6) rotate(-90)" font-size="18" text-anchor="middle" dominant-baseline="central" textLength="197" lengthAdjust="spacingAndGlyphs">Biological efficiency (%)</text>
<g font-size="17" font-weight="bold" text-anchor="middle" dominant-baseline="central">
<text class="serif" x="185.4" y="1521.8" textLength="60" lengthAdjust="spacingAndGlyphs">GJ+DD</text>
<text class="serif" x="371.2" y="1521.8" textLength="75" lengthAdjust="spacingAndGlyphs">WTL+SD</text>
<text class="serif" x="557.4" y="1521.8" textLength="40" lengthAdjust="spacingAndGlyphs">CSH</text>
</g>
<g font-size="20" text-anchor="middle" dominant-baseline="central">
<text class="serif" x="182" y="1207">ab</text><text class="serif" x="371.2" y="1250">a</text><text class="serif" x="557.4" y="1157">b</text>
</g>
</g>

<!-- ================= PANEL L ================= -->
<g>
<text class="pl" x="659.7" y="1235.3" text-anchor="middle" dominant-baseline="central">(L)</text>
<rect x="700.2" y="1224.2" width="233.4" height="251.2" fill="#fff"/>
<rect x="700.2" y="1224.2" width="38.8" height="217.6" fill="#bddfde"/>
<rect x="846.2" y="1224.2" width="87.4" height="217.6" fill="#f5b3f7"/>
<g stroke="#bbb" stroke-width="1.6"><line x1="739" y1="1224.2" x2="739" y2="1475.4"/><line x1="846.2" y1="1224.2" x2="846.2" y2="1475.4"/><line x1="700.2" y1="1441.8" x2="933.6" y2="1441.8"/></g>
<rect x="700.2" y="1224.2" width="233.4" height="251.2" fill="none" stroke="#333" stroke-width="1.5"/>
<g stroke="#555" stroke-width="1.2"><line x1="697" y1="1281.2" x2="700.2" y2="1281.2"/><line x1="697" y1="1369.5" x2="700.2" y2="1369.5"/><line x1="697" y1="1463.6" x2="700.2" y2="1463.6"/>
<line x1="739" y1="1475.4" x2="739" y2="1479"/><line x1="792.6" y1="1475.4" x2="792.6" y2="1479"/><line x1="846.2" y1="1475.4" x2="846.2" y2="1479"/><line x1="899.3" y1="1475.4" x2="899.3" y2="1479"/></g>
<g class="tk" text-anchor="end" dominant-baseline="central"><text x="695.1" y="1281.2">10</text><text x="695.1" y="1369.5">5</text><text x="695.1" y="1463.6">0</text></g>
<g class="tk" text-anchor="middle" dominant-baseline="central"><text x="739" y="1487.2">−1</text><text x="792.6" y="1487.2">0</text><text x="846.2" y="1487.2">1</text><text x="899.3" y="1487.2">2</text></g>
<text x="821.3" y="1514.2" font-size="17" text-anchor="middle" dominant-baseline="central" textLength="134" lengthAdjust="spacingAndGlyphs">log2 Fold Change</text>
<text x="816" y="1542.5" font-size="17" text-anchor="middle" dominant-baseline="central" textLength="131" lengthAdjust="spacingAndGlyphs">GJ+DD_vs_CSH</text>
<text transform="translate(663,1324.8) rotate(-90)" font-size="17" text-anchor="middle" dominant-baseline="central" textLength="127" lengthAdjust="spacingAndGlyphs">−log10 p−value</text>
<g stroke="#d8334f" stroke-width="1.1"><line x1="892.7" y1="1235.3" x2="802.5" y2="1276.5"/><line x1="784.8" y1="1361.2" x2="851.3" y2="1413"/><line x1="735.4" y1="1421.3" x2="680.7" y2="1477.8"/></g>
<g fill="#b9605f"><circle cx="710.6" cy="1333.7" r="2.6"/><circle cx="713.9" cy="1350.2" r="2.6"/><circle cx="717.7" cy="1398.4" r="2.6"/><circle cx="733.9" cy="1417.7" r="2.6"/><circle cx="735.4" cy="1421.3" r="2.6"/></g>
<g fill="#ee3f7a"><circle cx="892.7" cy="1235.3" r="2.6"/><circle cx="911.1" cy="1239.5" r="2.6"/><circle cx="900.6" cy="1320.5" r="2.6"/><circle cx="909.3" cy="1360.5" r="2.6"/><circle cx="922.8" cy="1390.7" r="2.6"/><circle cx="858.3" cy="1405.3" r="2.6"/><circle cx="856.8" cy="1409.5" r="2.6"/><circle cx="851.3" cy="1413" r="2.6"/><circle cx="868.3" cy="1425.5" r="2.6"/><circle cx="856.4" cy="1430" r="2.6"/><circle cx="853.5" cy="1430.7" r="2.6"/></g>
<g fill="#52b552"><circle cx="744.9" cy="1377.7" r="2.6"/><circle cx="740.5" cy="1417.7" r="2.6"/><circle cx="755.3" cy="1418.9" r="2.6"/><circle cx="766.4" cy="1426.4" r="2.6"/><circle cx="759.3" cy="1433" r="2.6"/><circle cx="769.3" cy="1434.9" r="2.6"/><circle cx="744.9" cy="1437.3" r="2.6"/><circle cx="750.9" cy="1438.9" r="2.6"/><circle cx="831.7" cy="1410.7" r="2.6"/><circle cx="842.8" cy="1408.3" r="2.6"/><circle cx="843.5" cy="1416.6" r="2.6"/><circle cx="822.5" cy="1418.9" r="2.6"/><circle cx="822" cy="1427.9" r="2.6"/><circle cx="833.5" cy="1427.9" r="2.6"/><circle cx="832.9" cy="1439.6" r="2.6"/></g>
<g fill="#7a7a7a"><circle cx="746.7" cy="1444.8" r="2.5"/><circle cx="756" cy="1451.9" r="2.5"/><circle cx="761.5" cy="1449.5" r="2.5"/><circle cx="767.7" cy="1449.5" r="2.5"/><circle cx="766" cy="1458.9" r="2.5"/><circle cx="774.8" cy="1456.1" r="2.5"/><circle cx="777" cy="1446" r="2.5"/><circle cx="781.5" cy="1451.4" r="2.5"/><circle cx="779.3" cy="1461.3" r="2.5"/><circle cx="783.7" cy="1456.1" r="2.5"/><circle cx="787" cy="1463.2" r="2.5"/><circle cx="791.5" cy="1464.3" r="2.5"/><circle cx="795.9" cy="1462.5" r="2.5"/><circle cx="800.3" cy="1457.8" r="2.5"/><circle cx="803.6" cy="1461.3" r="2.5"/><circle cx="807" cy="1454.2" r="2.5"/><circle cx="809.2" cy="1461.3" r="2.5"/><circle cx="811.4" cy="1449.5" r="2.5"/><circle cx="813.2" cy="1443.6" r="2.5"/><circle cx="818" cy="1447.2" r="2.5"/><circle cx="816.9" cy="1451.9" r="2.5"/><circle cx="824.2" cy="1456.1" r="2.5"/><circle cx="793.7" cy="1464.8" r="2.5"/><circle cx="798.1" cy="1463.2" r="2.5"/><circle cx="780.4" cy="1461.3" r="2.5"/><circle cx="771.5" cy="1455.4" r="2.5"/><circle cx="764.9" cy="1453.8" r="2.5"/><circle cx="760.4" cy="1451.4" r="2.5"/></g>
<text transform="translate(795.9,1272.4) rotate(67)" font-size="19" text-anchor="middle" dominant-baseline="central" textLength="90" lengthAdjust="spacingAndGlyphs">Dopamine</text>
<text transform="translate(773.8,1367.2) rotate(-48)" font-size="19" text-anchor="middle" dominant-baseline="central" textLength="76" lengthAdjust="spacingAndGlyphs">Caffeine</text>
<text transform="translate(682.4,1481.3) rotate(67)" font-size="19" text-anchor="middle" dominant-baseline="central" textLength="138" lengthAdjust="spacingAndGlyphs">Stearidonic Acid</text>
</g>

<!-- ================= PANEL M ================= -->
<g>
<text class="pl" x="976" y="1229.4" text-anchor="middle" dominant-baseline="central">(M)</text>
<rect x="1014" y="1221.2" width="230.8" height="251.9" fill="#fff"/>
<rect x="1014" y="1221.2" width="149.2" height="236.1" fill="#bddfde"/>
<rect x="1212.2" y="1221.2" width="32.6" height="236.1" fill="#f5b3f7"/>
<g stroke="#bbb" stroke-width="1.6"><line x1="1163.2" y1="1221.2" x2="1163.2" y2="1473.1"/><line x1="1212.2" y1="1221.2" x2="1212.2" y2="1473.1"/><line x1="1014" y1="1458.2" x2="1244.8" y2="1458.2"/></g>
<rect x="1014" y="1221.2" width="230.8" height="251.9" fill="none" stroke="#333" stroke-width="1.5"/>
<g stroke="#555" stroke-width="1.2"><line x1="1010.5" y1="1232.2" x2="1014" y2="1232.2"/><line x1="1010.5" y1="1289.5" x2="1014" y2="1289.5"/><line x1="1010.5" y1="1347.1" x2="1014" y2="1347.1"/><line x1="1010.5" y1="1404.3" x2="1014" y2="1404.3"/><line x1="1010.5" y1="1461.3" x2="1014" y2="1461.3"/>
<line x1="1067.4" y1="1473.1" x2="1067.4" y2="1476.6"/><line x1="1129.6" y1="1473.1" x2="1129.6" y2="1476.6"/><line x1="1189.2" y1="1473.1" x2="1189.2" y2="1476.6"/></g>
<g font-size="13.5" text-anchor="end" dominant-baseline="central"><text x="1008.2" y="1232.2">80</text><text x="1008.2" y="1289.5">60</text><text x="1008.2" y="1347.1">40</text><text x="1008.2" y="1404.3">20</text><text x="1008.2" y="1461.3">0</text></g>
<g class="tk" text-anchor="middle" dominant-baseline="central"><text x="1067.4" y="1483.7">−5.0</text><text x="1129.6" y="1483.7">−2.5</text><text x="1189.2" y="1483.7">0.0</text></g>
<text x="1131" y="1514.2" font-size="17" text-anchor="middle" dominant-baseline="central" textLength="134" lengthAdjust="spacingAndGlyphs">log2 Fold Change</text>
<text x="1129.6" y="1536.6" font-size="17" text-anchor="middle" dominant-baseline="central" textLength="143" lengthAdjust="spacingAndGlyphs">WTL+SD_vs_CSH</text>
<text transform="translate(974,1326) rotate(-90)" font-size="17" text-anchor="middle" dominant-baseline="central" textLength="127" lengthAdjust="spacingAndGlyphs">−log10 p−value</text>
<g stroke="#c8405a" stroke-width="1.1"><line x1="1086" y1="1400" x2="1154.5" y2="1453"/><line x1="1186" y1="1424.8" x2="1234.4" y2="1474.2"/><line x1="1229.2" y1="1382.4" x2="1234.4" y2="1446" stroke="#e0307a"/></g>
<g fill="#c0605f"><ellipse cx="1024.4" cy="1232.5" rx="3.5" ry="1.6"/><ellipse cx="1140" cy="1451.4" rx="3.5" ry="1.8"/><ellipse cx="1150" cy="1446" rx="3.5" ry="1.8"/><ellipse cx="1152" cy="1454" rx="3.5" ry="2"/><ellipse cx="1156" cy="1452.5" rx="3.5" ry="2"/><ellipse cx="1158" cy="1455" rx="3.5" ry="2"/><ellipse cx="1150" cy="1456" rx="3.5" ry="2" fill="#c84545"/></g>
<g fill="#3fae3f"><ellipse cx="1168" cy="1455.5" rx="4" ry="1.8"/><ellipse cx="1174" cy="1456" rx="4" ry="1.8"/><ellipse cx="1201" cy="1455.5" rx="4" ry="1.8"/><ellipse cx="1207" cy="1455" rx="4" ry="1.8"/><ellipse cx="1210" cy="1454" rx="3" ry="1.8"/></g>
<path d="M1170,1460 Q1189,1466 1207,1460" fill="none" stroke="#707070" stroke-width="2.6"/>
<g fill="#ee3f7a"><ellipse cx="1215.3" cy="1455.4" rx="3.2" ry="2"/><ellipse cx="1229.2" cy="1453.8" rx="3.2" ry="2"/><ellipse cx="1234.4" cy="1446" rx="3.2" ry="2"/></g>
<text transform="translate(1089.7,1388.3) rotate(-50)" font-size="20" text-anchor="middle" dominant-baseline="central" textLength="123" lengthAdjust="spacingAndGlyphs">Ergothioneine</text>
<text transform="translate(1179.4,1389.5) rotate(-47)" font-size="20" text-anchor="middle" dominant-baseline="central" textLength="55" lengthAdjust="spacingAndGlyphs">Uracil</text>
<text transform="translate(1245.2,1354.2) rotate(-41)" font-size="19" text-anchor="middle" dominant-baseline="central" textLength="78" lengthAdjust="spacingAndGlyphs">Tyramine</text>
</g>
</svg>
</body></html>
